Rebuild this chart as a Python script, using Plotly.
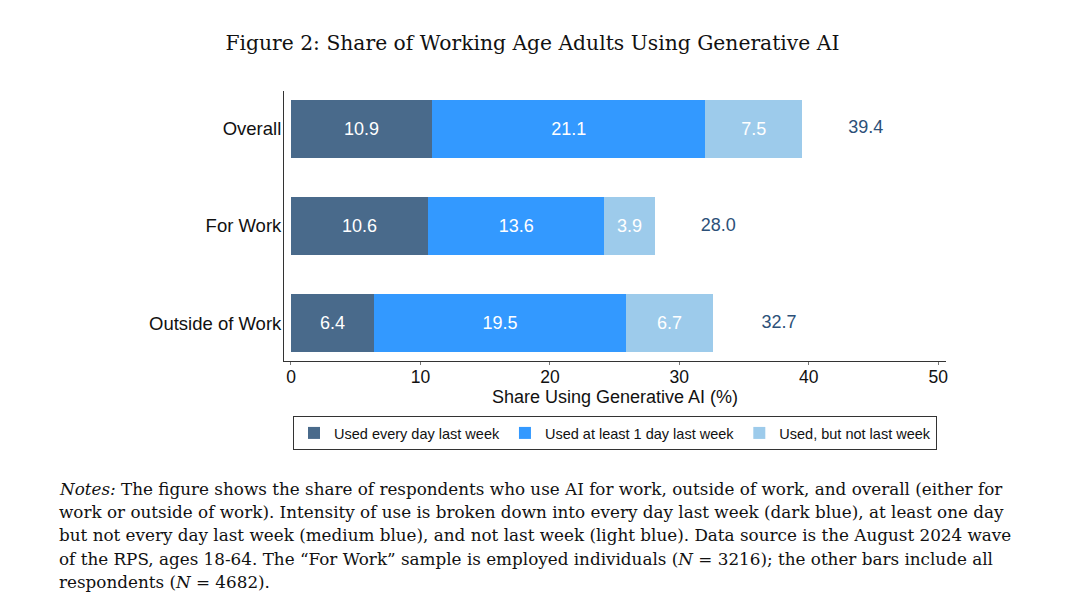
import plotly.graph_objects as go

categories = ["Overall", "For Work", "Outside of Work"]
every_day = [10.9, 10.6, 6.4]
at_least_one_day = [21.1, 13.6, 19.5]
not_last_week = [7.5, 3.9, 6.7]
totals = [39.4, 28.0, 32.7]
series_names = ["Used every day last week", "Used at least 1 day last week", "Used, but not last week"]
x_ticks = [0, 10, 20, 30, 40, 50]

title_text = "Figure 2: Share of Working Age Adults Using Generative AI"
x_title = "Share Using Generative AI (%)"
notes_lines = [
    "<i>Notes:</i> The figure shows the share of respondents who use AI for work, outside of work, and overall (either for",
    "work or outside of work). Intensity of use is broken down into every day last week (dark blue), at least one day",
    "but not every day last week (medium blue), and not last week (light blue). Data source is the August 2024 wave",
    "of the RPS, ages 18-64. The \u201cFor Work\u201d sample is employed individuals (<i>N</i> = 3216); the other bars include all",
    "respondents (<i>N</i> = 4682).",
]

colors = ["#496a8b", "#3399ff", "#9dcbeb"]
SANS = "Liberation Sans, Arial, sans-serif"
SERIF = "DejaVu Serif, serif"

fig = go.Figure()
for name, vals, col in zip(series_names, [every_day, at_least_one_day, not_last_week], colors):
    fig.add_trace(go.Bar(
        y=categories, x=vals, name=name, orientation="h",
        marker=dict(color=col, line=dict(width=0)),
        text=[f"{v:.1f}" for v in vals], textposition="inside",
        insidetextanchor="middle", constraintext="none",
        textfont=dict(color="white", size=18, family=SANS),
        width=0.6, hoverinfo="skip",
    ))

fig.add_trace(go.Scatter(
    y=categories, x=[t + 5 for t in totals], mode="text",
    text=[f"{t:.1f}" for t in totals], textposition="middle center",
    textfont=dict(color="#2c5078", size=18, family=SANS),
    showlegend=False, hoverinfo="skip",
))

PLOT_TOP, PLOT_H = 91, 270

def py(px):
    return (PLOT_TOP + PLOT_H - px) / PLOT_H

fig.update_layout(
    width=1080, height=610,
    barmode="stack",
    plot_bgcolor="white", paper_bgcolor="white",
    margin=dict(l=284, r=134, t=PLOT_TOP, b=610 - PLOT_TOP - PLOT_H),
    font=dict(family=SANS, size=16, color="#111111"),
    title=dict(text=title_text, x=0.493, xanchor="center", y=1 - 43 / 610, yanchor="middle",
               font=dict(family=SERIF, size=20.3, color="#111111")),
    xaxis=dict(range=[-0.54, 50.6], tickvals=x_ticks, ticks="outside", ticklen=3,
               tickcolor="#777777", showline=True, linecolor="#333333", linewidth=1,
               showgrid=False, zeroline=False, automargin=False, ticklabelstandoff=-3,
               tickfont=dict(size=17.5, family=SANS, color="#111111")),
    yaxis=dict(range=[2.39, -0.39], showline=True, linecolor="#333333", linewidth=1,
               showgrid=False, zeroline=False, ticks="", ticklabelstandoff=-2, automargin=False,
               tickfont=dict(size=18.5, family=SANS, color="#111111")),
    legend=dict(orientation="h", x=(615 - 284) / 662, xanchor="center", y=py(416),
                yanchor="top",
                bordercolor="#333333", borderwidth=1, bgcolor="white",
                font=dict(size=14.5, family=SANS, color="#111111"),
                traceorder="normal", itemsizing="constant", itemwidth=30),
)

fig.add_annotation(text=x_title, xref="paper", yref="paper", x=(615 - 284) / 662, xanchor="center",
                   y=py(397), yanchor="middle", showarrow=False,
                   font=dict(size=18, family=SANS, color="#111111"))

for i, line in enumerate(notes_lines):
    ypx = 489 + 23.2 * i
    fig.add_annotation(text=line, xref="paper", yref="paper",
                       x=(57 - 284) / 662, xanchor="left",
                       y=py(ypx), yanchor="middle",
                       showarrow=False, align="left",
                       font=dict(family=SERIF, size=16.8, color="#111111"))

fig.write_html("out.html", config={"displayModeBar": False},
               post_script="document.body.style.margin='0';document.body.style.overflow='hidden';")
